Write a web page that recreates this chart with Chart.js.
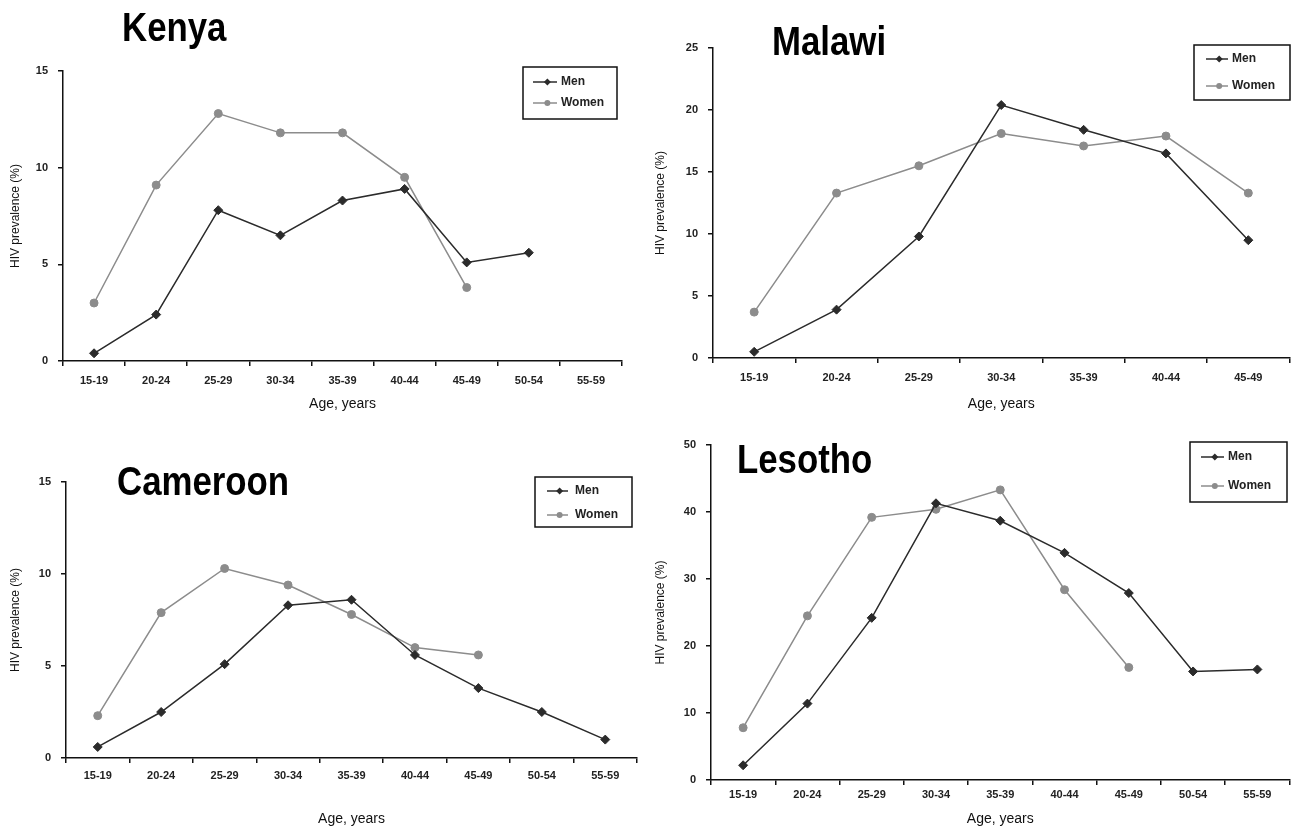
<!DOCTYPE html>
<html>
<head>
<meta charset="utf-8">
<script src="https://cdn.jsdelivr.net/npm/chart.js@4/dist/chart.umd.min.js"></script>
<style>
  body { margin: 0; background: #fff; }
  #wrap { position: relative; width: 1295px; height: 830px; }
  canvas { position: absolute; }
</style>
</head>
<body>
<div id="wrap">
  <canvas id="kenya" width="647" height="415" style="left:0;top:0"></canvas>
  <canvas id="malawi" width="650" height="415" style="left:645px;top:0"></canvas>
  <canvas id="cameroon" width="647" height="415" style="left:0;top:415px"></canvas>
  <canvas id="lesotho" width="650" height="415" style="left:645px;top:415px"></canvas>
</div>
<script>
"use strict";

// age groups
const agesLong = ['15-19', '20-24', '25-29', '30-34', '35-39', '40-44', '45-49', '50-54', '55-59'];
const agesShort = ['15-19', '20-24', '25-29', '30-34', '35-39', '40-44', '45-49'];

// HIV prevalence (%)
const kenyaMen = [0.4, 2.4, 7.8, 6.5, 8.3, 8.9, 5.1, 5.6, null];
const kenyaWomen = [3.0, 9.1, 12.8, 11.8, 11.8, 9.5, 3.8, null, null];

const malawiMen = [0.5, 3.9, 9.8, 20.4, 18.4, 16.5, 9.5];
const malawiWomen = [3.7, 13.3, 15.5, 18.1, 17.1, 17.9, 13.3];

const cameroonMen = [0.6, 2.5, 5.1, 8.3, 8.6, 5.6, 3.8, 2.5, 1.0];
const cameroonWomen = [2.3, 7.9, 10.3, 9.4, 7.8, 6.0, 5.6, null, null];

const lesothoMen = [2.2, 11.4, 24.2, 41.3, 38.7, 33.9, 27.9, 16.2, 16.5];
const lesothoWomen = [7.8, 24.5, 39.2, 40.4, 43.3, 28.4, 16.8, null, null];

const menColor = '#2b2b2b';
const womenColor = '#8c8c8c';
const tickFont = { family: '"Liberation Sans Narrow", "Liberation Sans", Arial, sans-serif', size: 11, weight: 'bold' };

// draws the big country name and the boxed legend
const panelDecor = {
  id: 'panelDecor',
  afterDraw(chart, args, opts) {
    const ctx = chart.ctx;
    ctx.save();
    ctx.font = 'bold 40px "Liberation Sans", Arial, sans-serif';
    ctx.fillStyle = '#000';
    ctx.textBaseline = 'alphabetic';
    ctx.textAlign = 'left';
    ctx.translate(opts.titleX, opts.titleY);
    ctx.scale(0.87, 1);
    ctx.fillText(opts.title, 0, 0);
    ctx.restore();

    const b = opts.box;
    ctx.save();
    ctx.strokeStyle = '#111';
    ctx.lineWidth = 1.5;
    ctx.strokeRect(b.x, b.y, b.w, b.h);
    chart.data.datasets.forEach((ds, i) => {
      const y = b.rows[i];
      ctx.strokeStyle = ds.borderColor;
      ctx.fillStyle = ds.borderColor;
      ctx.lineWidth = 1.5;
      ctx.beginPath();
      ctx.moveTo(b.lineX, y);
      ctx.lineTo(b.lineX + b.lineW, y);
      ctx.stroke();
      const mx = b.lineX + b.lineW * 0.6;
      ctx.beginPath();
      if (ds.pointStyle === 'rectRot') {
        ctx.moveTo(mx, y - 3.5);
        ctx.lineTo(mx + 3.5, y);
        ctx.lineTo(mx, y + 3.5);
        ctx.lineTo(mx - 3.5, y);
        ctx.closePath();
      } else {
        ctx.arc(mx, y, 3, 0, Math.PI * 2);
      }
      ctx.fill();
      ctx.font = 'bold 12px "Liberation Sans Narrow", "Liberation Sans", Arial, sans-serif';
      ctx.fillStyle = '#222';
      ctx.textBaseline = 'middle';
      ctx.fillText(ds.label, b.textX, y);
    });
    ctx.restore();
  }
};

function makeChart(id, labels, men, women, yMax, yStep, g, decor) {
  return new Chart(document.getElementById(id), {
    type: 'line',
    data: {
      labels: labels,
      datasets: [
        {
          label: 'Men',
          data: men,
          borderColor: menColor,
          backgroundColor: menColor,
          borderWidth: 1.5,
          pointStyle: 'rectRot',
          pointRadius: 4.5,
          pointBorderWidth: 1,
          tension: 0
        },
        {
          label: 'Women',
          data: women,
          borderColor: womenColor,
          backgroundColor: womenColor,
          borderWidth: 1.5,
          pointStyle: 'circle',
          pointRadius: 4,
          pointBorderWidth: 1,
          tension: 0
        }
      ]
    },
    options: {
      responsive: false,
      animation: false,
      layout: { padding: { top: g.top, right: g.right, left: 0, bottom: 0 } },
      plugins: {
        legend: { display: false },
        tooltip: { enabled: false },
        panelDecor: decor
      },
      scales: {
        x: {
          offset: true,
          grid: { offset: true, drawOnChartArea: false, tickLength: 5, color: '#111', lineWidth: 1.5 },
          border: { color: '#111', width: 1.5 },
          ticks: { font: tickFont, color: '#222', padding: g.xPad, maxRotation: 0, autoSkip: false },
          title: {
            display: true, text: 'Age, years', color: '#111',
            font: { family: '"Liberation Sans", Arial, sans-serif', size: 14 },
            padding: { top: 2, bottom: 2 }
          },
          afterFit(s) { s.height = g.xHeight; }
        },
        y: {
          min: 0,
          max: yMax,
          grid: { drawOnChartArea: false, tickLength: 5, color: '#111', lineWidth: 1.5 },
          border: { color: '#111', width: 1.5 },
          ticks: { stepSize: yStep, font: tickFont, color: '#222', padding: 10 },
          title: {
            display: true, text: 'HIV prevalence (%)', color: '#111',
            font: { family: '"Liberation Sans", Arial, sans-serif', size: 12 },
            padding: { top: 8, bottom: 2 }
          },
          afterFit(s) { s.width = g.yWidth; }
        }
      }
    },
    plugins: [panelDecor]
  });
}

makeChart('kenya', agesLong, kenyaMen, kenyaWomen, 15, 5,
  { top: 71, right: 25, yWidth: 63, xHeight: 54, xPad: 8 },
  { title: 'Kenya', titleX: 122, titleY: 41,
    box: { x: 523, y: 67, w: 94, h: 52, rows: [82, 103], lineX: 533, lineW: 24, textX: 561 } });

makeChart('malawi', agesShort, malawiMen, malawiWomen, 25, 5,
  { top: 48, right: 2, yWidth: 68, xHeight: 57, xPad: 8 },
  { title: 'Malawi', titleX: 127, titleY: 55,
    box: { x: 549, y: 45, w: 96, h: 55, rows: [59, 86], lineX: 561, lineW: 22, textX: 587 } });

makeChart('cameroon', agesLong, cameroonMen, cameroonWomen, 15, 5,
  { top: 67, right: 10, yWidth: 66, xHeight: 72, xPad: 6 },
  { title: 'Cameroon', titleX: 117, titleY: 80,
    box: { x: 535, y: 62, w: 97, h: 50, rows: [76, 100], lineX: 547, lineW: 21, textX: 575 } });

makeChart('lesotho', agesLong, lesothoMen, lesothoWomen, 50, 10,
  { top: 30, right: 2, yWidth: 66, xHeight: 50, xPad: 3 },
  { title: 'Lesotho', titleX: 92, titleY: 58,
    box: { x: 545, y: 27, w: 97, h: 60, rows: [42, 71], lineX: 556, lineW: 23, textX: 583 } });
</script>
</body>
</html>
